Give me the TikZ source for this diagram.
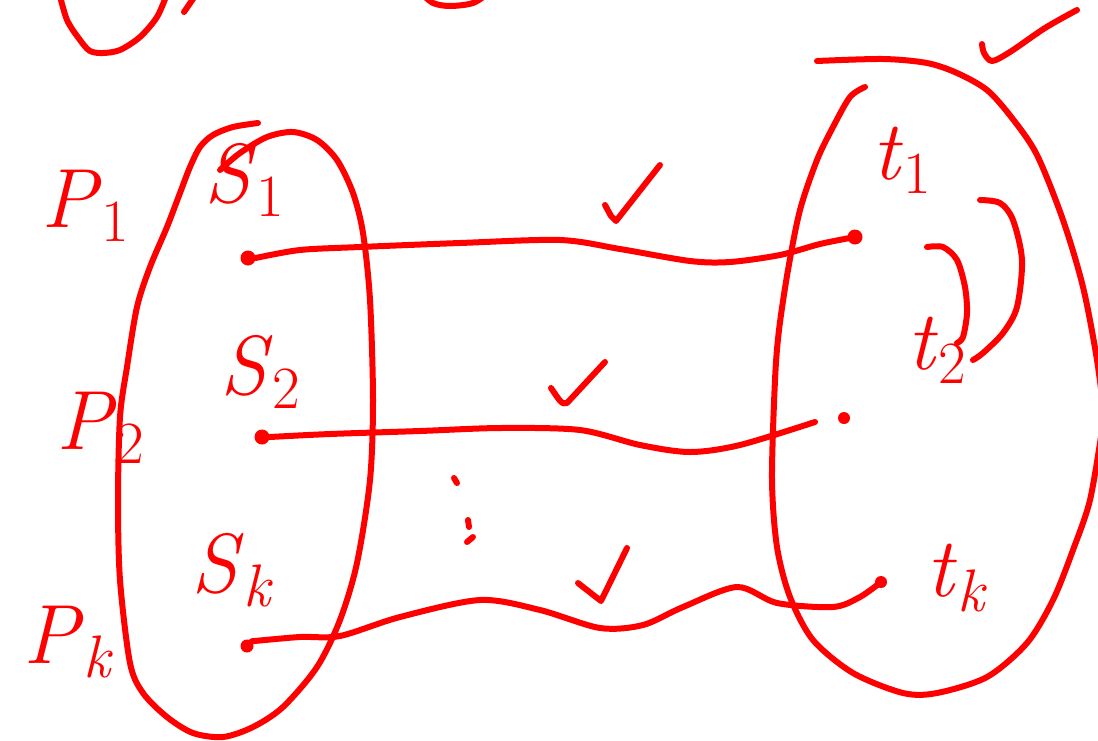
\documentclass[tikz,border=0pt]{standalone}
\usepackage{fontspec}
\newcommand\sublbl[2]{\textit{#1}\raisebox{-0.17em}{\fontsize{60}{60}\selectfont #2}}
\begin{document}
\begin{tikzpicture}[x=1pt,y=-1pt,
  ink/.style={draw=red, line width=6pt, line cap=round, line join=round},
  dotn/.style={circle, fill=red, inner sep=0pt, minimum size=15pt},
  lab/.style={text=red, inner sep=0pt, font=\fontsize{84}{88}\selectfont}]
\useasboundingbox (0,0) rectangle (1098,740);
\begin{scope}
\clip (0,0) rectangle (1098,740);
% top-left fragments
\draw[ink] plot[smooth] coordinates {(59,-8) (67,20) (80,40) (90,51) (103,53) (120,50) (140,37) (157,17) (167,-6)};
\draw[ink] (184,12) -- (195,-4);
\draw[ink] plot[smooth] coordinates {(420,-8) (433,3) (450,6) (473,3) (490,-8)};
% top-right check
\draw[ink] plot[smooth] coordinates {(982,44) (984,53) (992,61) (1010,52) (1045,28) (1077,10)};
% right big loop
\draw[ink] plot[smooth] coordinates {(817,61) (883,59) (927,63) (957,73) (987,90) (1012,118) (1037,155) (1063,220) (1083,287) (1097,360) (1106,430)};
\draw[ink] plot[smooth] coordinates {(865,87) (850,97) (833,127) (817,160) (800,210) (788,270) (779,330) (775,380) (772,480) (777,547) (790,597) (813,640) (853,673) (903,693) (937,693) (987,677) (1027,643) (1053,600) (1073,550) (1090,500) (1102,430)};
% left loop
\draw[ink] plot[smooth] coordinates {(258,123) (233,127) (213,135) (200,147) (190,167) (180,193) (167,227) (150,267) (137,307) (127,367) (120,417) (118,500) (120,580) (130,663) (143,693) (167,717) (193,733) (223,737) (253,727) (283,707) (317,667) (340,620) (357,563) (370,480) (373,400) (370,300) (363,233) (353,193) (337,160) (317,140) (293,132) (267,137) (240,153) (220,170)};
% arcs between t1 and t2
\draw[ink] plot[smooth] coordinates {(980,200) (1000,203) (1013,220) (1022,260) (1017,307) (1003,333) (983,353) (973,360)};
\draw[ink] plot[smooth] coordinates {(927,247) (943,247) (957,260) (965,287) (967,313) (963,337) (957,343)};
\end{scope}
% dots
\node[dotn] (s1) at (248,258) {};
\node[dotn] (s2) at (262,437) {};
\node[dotn, minimum size=13pt] (sk) at (247,646) {};
\node[dotn] (t1) at (855,237) {};
\node[dotn, minimum size=12pt] (t2) at (844,418) {};
\node[dotn, minimum size=12pt] (tk) at (881,582) {};
\coordinate (e2) at (815,422);
% connectors
\draw[ink] plot[smooth] coordinates {(s1.east) (300,250) (360,247) (460,243) (560,240) (620,249) (690,261) (730,262) (780,255) (820,244) (t1.center)};
\draw[ink] plot[smooth] coordinates {(s2.east) (330,434) (420,431) (500,428) (580,430) (640,445) (690,452) (740,445) (e2)};
\draw[ink] plot[smooth] coordinates {(sk.north east) (300,637) (340,636) (400,617) (480,600) (540,610) (600,628) (643,625) (683,607) (737,587) (777,603) (833,607) (860,597) (tk.center)};
% check marks
\draw[ink] (605,205) -- (611,216) -- (616,221) -- (660,165);
\draw[ink] (551,388) .. controls (558,398) and (562,406) .. (567,403) -- (605,362);
\draw[ink] (578,583) -- (601,601) -- (627,548);
% vertical dots
\draw[ink] (454,478) -- (457,483);
\draw[ink] (468,520) -- (469,527);
\draw[ink] (467,542) -- (473,537);
% labels
\node[lab] (P1) at (85,206) {\sublbl{P}{1}};
\node[lab] (P2) at (100,428) {\sublbl{P}{2}};
\node[lab] (Pk) at (68,642) {\sublbl{P}{\textit{k}}};
\node[lab] (S1) at (244,180) {\sublbl{S}{1}};
\node[lab] (S2) at (260,372) {\sublbl{S}{2}};
\node[lab] (Sk) at (232,570) {\sublbl{S}{\textit{k}}};
\node[lab] (T1) at (902,160) {\sublbl{t}{1}};
\node[lab] (T2) at (937,350) {\sublbl{t}{2}};
\node[lab] (Tk) at (957,578) {\sublbl{t}{\textit{k}}};
\end{tikzpicture}
\end{document}
